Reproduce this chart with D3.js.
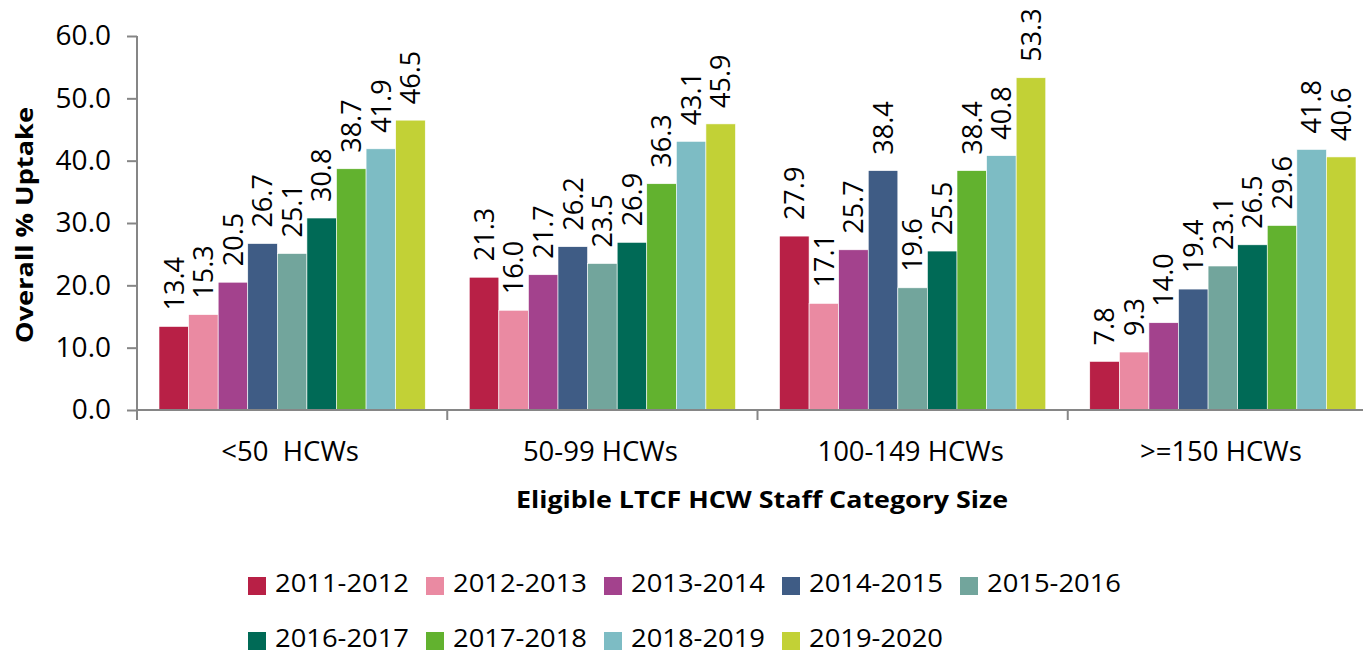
<!DOCTYPE html>
<html><head><meta charset="utf-8">
<script src="https://cdn.jsdelivr.net/npm/d3@7"></script>
<style>
html,body{margin:0;padding:0;background:#fff;overflow:hidden;}
svg{display:block;}
text{font-family:"Open Sans",sans-serif;fill:#000;}
</style></head>
<body>
<svg id="chart" width="1363" height="655"></svg>
<script>
const categories = ["<50  HCWs", "50-99 HCWs", "100-149 HCWs", ">=150 HCWs"];
const seasons = ["2011-2012","2012-2013","2013-2014","2014-2015","2015-2016","2016-2017","2017-2018","2018-2019","2019-2020"];
const colors = ["#B82046","#EA8AA2","#A3428D","#3F5C85","#72A59C","#006A56","#62B22F","#7DBCC4","#C2D136"];
const valuesLt50   = [13.4, 15.3, 20.5, 26.7, 25.1, 30.8, 38.7, 41.9, 46.5];
const values50to99 = [21.3, 16.0, 21.7, 26.2, 23.5, 26.9, 36.3, 43.1, 45.9];
const values100to149 = [27.9, 17.1, 25.7, 38.4, 19.6, 25.5, 38.4, 40.8, 53.3];
const valuesGe150  = [7.8, 9.3, 14.0, 19.4, 23.1, 26.5, 29.6, 41.8, 40.6];
const yTicks = [0, 10, 20, 30, 40, 50, 60];

const seriesByCat = [valuesLt50, values50to99, values100to149, valuesGe150];
const data = [];
categories.forEach((c, ci) => seasons.forEach((s, si) => data.push({cat: c, season: s, value: seriesByCat[ci][si], color: colors[si]})));

const svg = d3.select("#chart");
const axisColor = "#868686";

const x0 = d3.scaleBand().domain(categories).range([137, 1378]).paddingInner(0).paddingOuter(0);
const groupW = x0.bandwidth();
const x1 = d3.scaleBand().domain(seasons).range([22, groupW - 22]).padding(0);
const y = d3.scaleLinear().domain([0, 60]).range([410, 36]);

// Bars
const bars = svg.append("g");
bars.selectAll("rect").data(data).join("rect")
  .attr("x", d => x0(d.cat) + x1(d.season))
  .attr("y", d => y(d.value))
  .attr("width", x1.bandwidth())
  .attr("height", d => y(0) - y(d.value))
  .attr("fill", d => d.color)
  .attr("stroke", "#ffffff").attr("stroke-width", 0.6);

// Value labels
bars.selectAll("text.val").data(data).join("text")
  .attr("class", "val")
  .attr("transform", d => `translate(${x0(d.cat) + x1(d.season) + x1.bandwidth()/2},${y(d.value) - 16}) rotate(-90)`)
  .attr("dy", "0.36em")
  .attr("text-anchor", "start")
  .style("font-size", "27px")
  .text(d => d.value.toFixed(1));

// Y axis
const yAxis = d3.axisLeft(y).tickValues(yTicks).tickFormat(d3.format(".1f")).tickSize(10).tickSizeOuter(0).tickPadding(16);
const gy = svg.append("g").attr("transform", "translate(137,0)").call(yAxis);
gy.select(".domain").remove();
gy.selectAll(".tick line").attr("stroke", axisColor).attr("stroke-width", 2);
gy.selectAll(".tick text").style("font-size", "28px").style("font-family", "'Open Sans',sans-serif").attr("fill", "#000");
svg.append("line").attr("x1", 137).attr("x2", 137).attr("y1", y(60)).attr("y2", y(0) + 10)
  .attr("stroke", axisColor).attr("stroke-width", 2);

// X axis
svg.append("line").attr("x1", 137).attr("x2", 1363).attr("y1", y(0)).attr("y2", y(0))
  .attr("stroke", axisColor).attr("stroke-width", 2);
const boundaries = categories.map(c => x0(c)).concat([x0.range()[1]]);
svg.append("g").selectAll("line").data(boundaries).join("line")
  .attr("x1", d => d).attr("x2", d => d).attr("y1", y(0)).attr("y2", y(0) + 10)
  .attr("stroke", axisColor).attr("stroke-width", 2);
svg.append("g").selectAll("text").data(categories).join("text")
  .attr("x", d => x0(d) + groupW/2 - 2)
  .attr("y", 461)
  .attr("text-anchor", "middle")
  .attr("xml:space", "preserve")
  .style("white-space", "pre")
  .style("font-size", "27.5px")
  .text(d => d);

// Axis titles
svg.append("text").attr("x", 762).attr("y", 508).attr("text-anchor", "middle")
  .style("font-size", "24px").style("font-weight", "bold")
  .attr("textLength", 492).attr("lengthAdjust", "spacingAndGlyphs")
  .text("Eligible LTCF HCW Staff Category Size");
svg.append("text").attr("transform", "translate(33,225) rotate(-90)").attr("text-anchor", "middle")
  .style("font-size", "24px").style("font-weight", "bold")
  .attr("textLength", 236).attr("lengthAdjust", "spacingAndGlyphs")
  .text("Overall % Uptake");

// Legend
const legendPos = seasons.map((s, i) => ({s, c: colors[i], x: 248 + (i % 5) * 178, y: i < 5 ? 586 : 641}));
const lg = svg.append("g").selectAll("g").data(legendPos).join("g")
  .attr("transform", d => `translate(${d.x},${d.y})`);
lg.append("rect").attr("x", 0).attr("y", -9).attr("width", 18).attr("height", 18).attr("fill", d => d.c);
lg.append("text").attr("x", 27).attr("y", 6)
  .style("font-size", "26px")
  .attr("textLength", 134).attr("lengthAdjust", "spacingAndGlyphs")
  .text(d => d.s);
</script>
</body></html>
